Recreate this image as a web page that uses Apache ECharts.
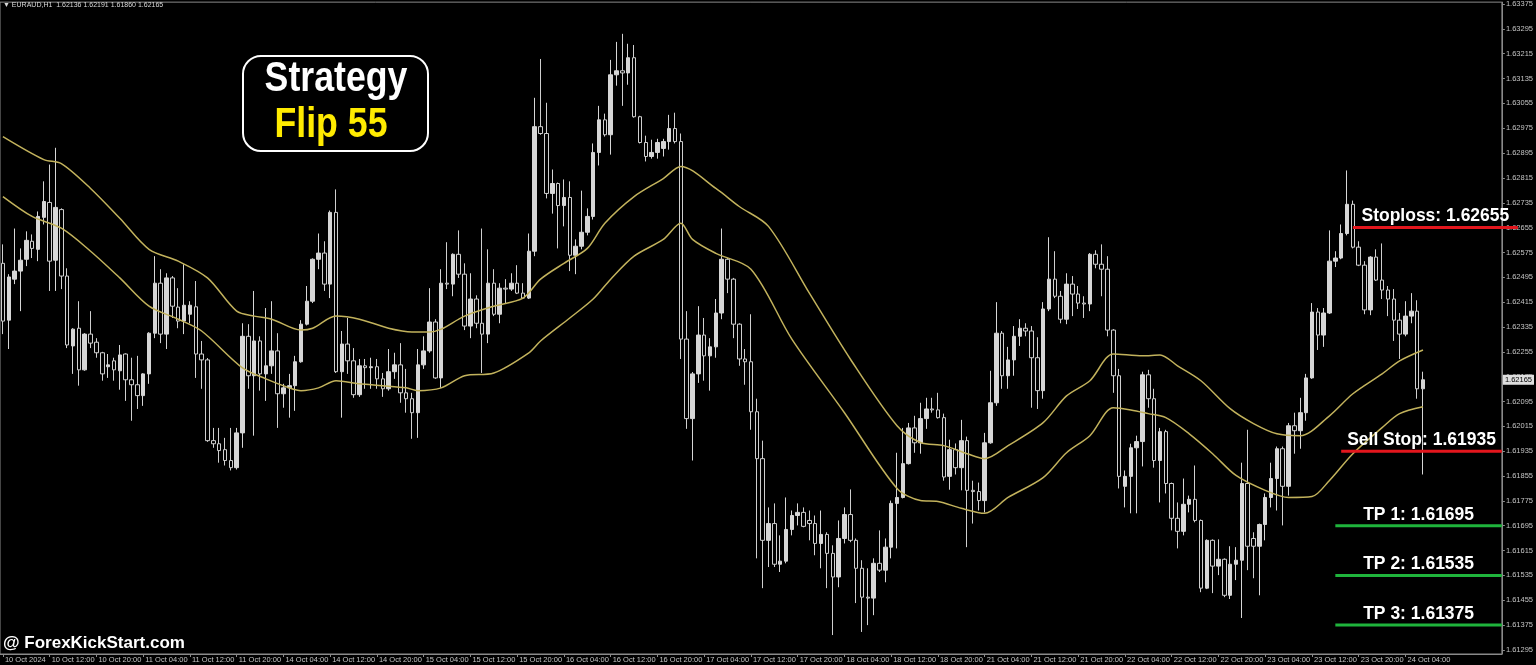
<!DOCTYPE html>
<html>
<head>
<meta charset="utf-8">
<title>EURAUD H1 - Strategy Flip 55</title>
<script src="https://cdn.jsdelivr.net/npm/echarts@6/dist/echarts.min.js"></script>
<style>
  html, body { margin: 0; padding: 0; background: #000; }
  #chart { width: 1536px; height: 665px; }
</style>
</head>
<body>
<div id="chart"></div>
<script>
// hourly bars, 10 Oct 04:00 -> 24 Oct 07:00, [open, close, low, high]
const ohlc = [
  [1.62540,1.62354,1.62312,1.62601],[1.62357,1.62496,1.62264,1.62505],[1.62489,1.62515,1.62473,1.62652],[1.62515,1.62550,1.62386,1.62588],
  [1.62553,1.62614,1.62531,1.62643],[1.62611,1.62588,1.62557,1.62633],[1.62585,1.62691,1.62547,1.62707],[1.62688,1.62739,1.62665,1.62804],
  [1.62736,1.62547,1.62451,1.62858],[1.62550,1.62720,1.62451,1.62912],[1.62713,1.62499,1.62457,1.62717],[1.62499,1.62277,1.62267,1.62524],
  [1.62274,1.62328,1.62184,1.62331],[1.62331,1.62197,1.62146,1.62418],[1.62197,1.62312,1.62194,1.62315],[1.62312,1.62283,1.62267,1.62386],
  [1.62286,1.62252,1.62236,1.62299],[1.62252,1.62184,1.62162,1.62255],[1.62207,1.62213,1.62171,1.62248],[1.62226,1.62197,1.62162,1.62236],
  [1.62194,1.62245,1.62133,1.62277],[1.62248,1.62165,1.62097,1.62250],[1.62165,1.62149,1.62033,1.62236],[1.62149,1.62114,1.62071,1.62242],
  [1.62114,1.62184,1.62081,1.62186],[1.62184,1.62315,1.62152,1.62318],[1.62315,1.62476,1.62299,1.62563],[1.62476,1.62312,1.62283,1.62521],
  [1.62312,1.62493,1.62264,1.62508],[1.62493,1.62402,1.62364,1.62499],[1.62399,1.62354,1.62331,1.62460],[1.62354,1.62405,1.62312,1.62537],
  [1.62376,1.62405,1.62347,1.62418],[1.62400,1.62248,1.62171,1.62483],[1.62248,1.62229,1.62136,1.62290],[1.62229,1.61969,1.61965,1.62235],
  [1.61969,1.61959,1.61946,1.62010],[1.61959,1.61937,1.61898,1.62010],[1.61940,1.61905,1.61889,1.61978],[1.61905,1.61882,1.61873,1.62010],
  [1.61882,1.61994,1.61876,1.62010],[1.61994,1.62305,1.61946,1.62347],[1.62305,1.62178,1.62136,1.62344],[1.62178,1.62290,1.61985,1.62451],
  [1.62290,1.62184,1.62130,1.62305],[1.62184,1.62210,1.62097,1.62396],[1.62210,1.62258,1.62184,1.62418],[1.62258,1.62120,1.62010,1.62315],
  [1.62120,1.62139,1.62075,1.62152],[1.62139,1.62146,1.62043,1.62184],[1.62146,1.62223,1.62065,1.62242],[1.62223,1.62344,1.62220,1.62357],
  [1.62344,1.62418,1.62340,1.62467],[1.62418,1.62553,1.62412,1.62556],[1.62553,1.62573,1.62521,1.62636],[1.62573,1.62473,1.62451,1.62611],
  [1.62473,1.62704,1.62428,1.62710],[1.62704,1.62191,1.62187,1.62778],[1.62191,1.62280,1.62043,1.62322],[1.62280,1.62226,1.62184,1.62364],
  [1.62226,1.62117,1.62107,1.62267],[1.62117,1.62210,1.62110,1.62232],[1.62210,1.62204,1.62136,1.62232],[1.62204,1.62207,1.62136,1.62236],
  [1.62207,1.62168,1.62136,1.62232],[1.62168,1.62136,1.62110,1.62187],[1.62136,1.62191,1.62130,1.62264],[1.62191,1.62213,1.62168,1.62252],
  [1.62213,1.62123,1.62091,1.62283],[1.62123,1.62104,1.62059,1.62200],[1.62104,1.62059,1.61975,1.62123],[1.62059,1.62213,1.61978,1.62264],
  [1.62213,1.62258,1.62200,1.62305],[1.62258,1.62351,1.62252,1.62460],[1.62351,1.62171,1.62168,1.62360],[1.62171,1.62476,1.62139,1.62521],
  [1.62476,1.62473,1.62457,1.62608],[1.62473,1.62569,1.62434,1.62572],[1.62569,1.62505,1.62493,1.62646],[1.62505,1.62338,1.62325,1.62540],
  [1.62338,1.62425,1.62299,1.62508],[1.62425,1.62347,1.62331,1.62437],[1.62347,1.62312,1.62187,1.62652],[1.62312,1.62476,1.62283,1.62585],
  [1.62476,1.62376,1.62370,1.62521],[1.62376,1.62460,1.62347,1.62476],[1.62460,1.62457,1.62412,1.62489],[1.62457,1.62476,1.62451,1.62508],
  [1.62476,1.62444,1.62441,1.62534],[1.62444,1.62428,1.62425,1.62476],[1.62428,1.62579,1.62425,1.62636],[1.62579,1.62980,1.62563,1.63073],
  [1.62980,1.62958,1.62954,1.63198],[1.62958,1.62765,1.62749,1.63057],[1.62765,1.62797,1.62700,1.62842],[1.62797,1.62726,1.62588,1.62800],
  [1.62726,1.62752,1.62659,1.62810],[1.62752,1.62566,1.62515,1.62804],[1.62566,1.62595,1.62505,1.62617],[1.62595,1.62640,1.62585,1.62774],
  [1.62640,1.62691,1.62630,1.62717],[1.62691,1.62897,1.62681,1.62926],[1.62897,1.63002,1.62855,1.63047],[1.63002,1.62954,1.62948,1.63022],
  [1.62954,1.63147,1.62890,1.63195],[1.63147,1.63160,1.63112,1.63253],[1.63160,1.63153,1.63047,1.63279],[1.63153,1.63202,1.63115,1.63247],
  [1.63202,1.63012,1.63009,1.63243],[1.63012,1.62929,1.62926,1.63015],[1.62929,1.62884,1.62868,1.62951],[1.62884,1.62897,1.62877,1.62938],
  [1.62897,1.62929,1.62877,1.62941],[1.62910,1.62932,1.62884,1.62941],[1.62932,1.62974,1.62906,1.63018],[1.62974,1.62932,1.62926,1.63025],
  [1.62932,1.62296,1.62232,1.62958],[1.62296,1.62040,1.62007,1.62386],[1.62040,1.62184,1.61905,1.62190],[1.62184,1.62309,1.62155,1.62402],
  [1.62309,1.62242,1.62162,1.62364],[1.62242,1.62271,1.62130,1.62299],[1.62271,1.62380,1.62236,1.62425],[1.62380,1.62553,1.62360,1.62652],
  [1.62553,1.62489,1.62444,1.62557],[1.62489,1.62344,1.62299,1.62493],[1.62344,1.62232,1.62210,1.62347],[1.62232,1.62223,1.62149,1.62264],
  [1.62223,1.62062,1.62004,1.62376],[1.62062,1.61911,1.61590,1.62104],[1.61911,1.61648,1.61494,1.61969],[1.61648,1.61702,1.61562,1.61754],
  [1.61702,1.61571,1.61562,1.61767],[1.61571,1.61581,1.61546,1.61664],[1.61581,1.61683,1.61574,1.61786],[1.61683,1.61728,1.61664,1.61744],
  [1.61728,1.61738,1.61696,1.61767],[1.61738,1.61693,1.61690,1.61754],[1.61712,1.61702,1.61648,1.61744],[1.61702,1.61638,1.61600,1.61728],
  [1.61638,1.61667,1.61558,1.61744],[1.61667,1.61606,1.61494,1.61674],[1.61606,1.61530,1.61343,1.61632],[1.61530,1.61654,1.61497,1.61712],
  [1.61654,1.61731,1.61638,1.61754],[1.61731,1.61648,1.61642,1.61812],[1.61648,1.61558,1.61446,1.61654],[1.61558,1.61465,1.61353,1.61584],
  [1.61465,1.61462,1.61375,1.61558],[1.61462,1.61574,1.61407,1.61590],[1.61574,1.61552,1.61546,1.61680],[1.61552,1.61626,1.61513,1.61654],
  [1.61626,1.61767,1.61590,1.61776],[1.61767,1.61786,1.61622,1.61930],[1.61786,1.61895,1.61783,1.62010],[1.61895,1.62010,1.61892,1.62026],
  [1.62010,1.61962,1.61930,1.62049],[1.61962,1.62040,1.61927,1.62091],[1.62040,1.62071,1.62007,1.62107],[1.62071,1.62068,1.62059,1.62107],
  [1.62068,1.62043,1.62040,1.62123],[1.62043,1.61852,1.61840,1.62056],[1.61854,1.61940,1.61811,1.61972],[1.61940,1.61882,1.61860,1.61960],
  [1.61882,1.61969,1.61809,1.62036],[1.61969,1.61809,1.61626,1.61982],[1.61809,1.61805,1.61702,1.61840],[1.61805,1.61776,1.61744,1.61834],
  [1.61776,1.61962,1.61738,1.61994],[1.61962,1.62091,1.61959,1.62194],[1.62091,1.62315,1.62081,1.62415],[1.62315,1.62178,1.62136,1.62322],
  [1.62178,1.62229,1.62136,1.62271],[1.62229,1.62305,1.62178,1.62338],[1.62305,1.62331,1.62274,1.62360],[1.62331,1.62322,1.62305,1.62347],
  [1.62322,1.62236,1.62075,1.62338],[1.62236,1.62130,1.62071,1.62302],[1.62130,1.62393,1.62104,1.62415],[1.62393,1.62489,1.62386,1.62624],
  [1.62489,1.62434,1.62428,1.62579],[1.62434,1.62360,1.62347,1.62451],[1.62360,1.62473,1.62344,1.62508],[1.62473,1.62441,1.62370,1.62499],
  [1.62441,1.62412,1.62393,1.62467],[1.62412,1.62409,1.62364,1.62434],[1.62409,1.62569,1.62386,1.62573],[1.62569,1.62537,1.62524,1.62582],
  [1.62537,1.62521,1.62434,1.62601],[1.62521,1.62325,1.62305,1.62563],[1.62325,1.62178,1.62123,1.62328],[1.62178,1.61854,1.61815,1.62200],
  [1.61822,1.61854,1.61754,1.61873],[1.61854,1.61946,1.61735,1.61959],[1.61946,1.61966,1.61735,1.61985],[1.61966,1.62181,1.61886,1.62191],
  [1.62181,1.62104,1.62075,1.62197],[1.62104,1.61905,1.61882,1.62136],[1.61905,1.61998,1.61770,1.62010],[1.61998,1.61831,1.61799,1.62004],
  [1.61831,1.61719,1.61680,1.61834],[1.61719,1.61677,1.61622,1.61770],[1.61677,1.61764,1.61664,1.61847],[1.61764,1.61780,1.61738,1.61792],
  [1.61780,1.61712,1.61706,1.61889],[1.61712,1.61494,1.61481,1.61715],[1.61494,1.61648,1.61491,1.61651],[1.61648,1.61565,1.61478,1.61651],
  [1.61565,1.61587,1.61536,1.61651],[1.61587,1.61471,1.61465,1.61590],[1.61471,1.61571,1.61459,1.61629],[1.61571,1.61584,1.61520,1.61626],
  [1.61584,1.61831,1.61398,1.61898],[1.61831,1.61629,1.61552,1.62004],[1.61654,1.61629,1.61526,1.61674],[1.61629,1.61699,1.61471,1.61702],
  [1.61699,1.61786,1.61648,1.61799],[1.61786,1.61847,1.61754,1.61898],[1.61847,1.61943,1.61744,1.61950],[1.61943,1.61822,1.61696,1.61950],
  [1.61822,1.62017,1.61792,1.62026],[1.62017,1.62001,1.61927,1.62059],[1.62001,1.62059,1.61943,1.62107],[1.62059,1.62171,1.62033,1.62184],
  [1.62171,1.62383,1.62168,1.62412],[1.62383,1.62309,1.62261,1.62396],[1.62309,1.62380,1.62271,1.62396],[1.62380,1.62547,1.62377,1.62646],
  [1.62547,1.62557,1.62528,1.62579],[1.62557,1.62636,1.62553,1.62665],[1.62636,1.62730,1.62630,1.62839],[1.62730,1.62592,1.62588,1.62742],
  [1.62592,1.62534,1.62531,1.62611],[1.62534,1.62390,1.62376,1.62547],[1.62390,1.62560,1.62373,1.62563],[1.62560,1.62486,1.62483,1.62585],
  [1.62486,1.62454,1.62425,1.62604],[1.62454,1.62425,1.62370,1.62467],[1.62425,1.62357,1.62290,1.62457],[1.62357,1.62312,1.62232,1.62380],
  [1.62312,1.62370,1.62305,1.62418],[1.62370,1.62386,1.62347,1.62444],[1.62386,1.62136,1.62104,1.62421],[1.62136,1.62165,1.61860,1.62191]
];

// the two moving average lines, read at these bar indexes
const upperIdx = [0,7,10,15,20,25,30,35,40,43,46,51,53,57,61,66,70,73,75,79,84,89,92,96,100,103,108,113,116,122,126,131,138,145,153,157,161,165,168,172,178,182,186,190,195,198,201,205,210,214,218,222,227,231,236,239,243];
const upperVals = [1.62948,1.62874,1.62861,1.62781,1.62685,1.62585,1.62547,1.62493,1.62386,1.62370,1.62360,1.62325,1.62331,1.62370,1.62360,1.62331,1.62319,1.62319,1.62328,1.62370,1.62402,1.62428,1.62489,1.62540,1.62588,1.62669,1.62755,1.62813,1.62852,1.62781,1.62723,1.62659,1.62444,1.62232,1.62017,1.61963,1.61953,1.61927,1.61911,1.61953,1.62027,1.62113,1.62162,1.62248,1.62242,1.62245,1.62210,1.62162,1.62072,1.62024,1.61991,1.61985,1.62049,1.62120,1.62184,1.62226,1.62261];
const lowerIdx = [0,5,10,15,20,25,30,34,41,45,49,51,54,57,61,65,69,71,75,79,84,90,92,97,101,104,108,113,116,118,122,128,135,144,153,157,160,164,168,172,178,182,186,190,193,196,199,203,207,211,216,220,224,227,231,236,239,243];
const lowerVals = [1.62755,1.62691,1.62653,1.62579,1.62493,1.62402,1.62360,1.62322,1.62203,1.62168,1.62139,1.62130,1.62139,1.62162,1.62152,1.62146,1.62139,1.62130,1.62139,1.62178,1.62187,1.62252,1.62290,1.62364,1.62425,1.62489,1.62563,1.62617,1.62669,1.62617,1.62572,1.62521,1.62296,1.62059,1.61815,1.61776,1.61773,1.61751,1.61735,1.61786,1.61850,1.61930,1.61985,1.62075,1.62068,1.62056,1.62043,1.61991,1.61927,1.61857,1.61809,1.61786,1.61789,1.61841,1.61927,1.62011,1.62056,1.62078];

// time labels, one every 8 bars
const xLabels = ['10 Oct 2024','10 Oct 12:00','10 Oct 20:00','11 Oct 04:00','11 Oct 12:00','11 Oct 20:00',
  '14 Oct 04:00','14 Oct 12:00','14 Oct 20:00','15 Oct 04:00','15 Oct 12:00','15 Oct 20:00',
  '16 Oct 04:00','16 Oct 12:00','16 Oct 20:00','17 Oct 04:00','17 Oct 12:00','17 Oct 20:00',
  '18 Oct 04:00','18 Oct 12:00','18 Oct 20:00','21 Oct 04:00','21 Oct 12:00','21 Oct 20:00',
  '22 Oct 04:00','22 Oct 12:00','22 Oct 20:00','23 Oct 04:00','23 Oct 12:00','23 Oct 20:00','24 Oct 04:00'];
const yTicks = [1.63375,1.63295,1.63215,1.63135,1.63055,1.62975,1.62895,1.62815,1.62735,1.62655,1.62575,1.62495,1.62415,
  1.62335,1.62255,1.62175,1.62095,1.62015,1.61935,1.61855,1.61775,1.61695,1.61615,1.61535,1.61455,1.61375,1.61295];

// trade levels drawn on the right
const levelNames = ['Stoploss', 'Sell Stop', 'TP 1', 'TP 2', 'TP 3'];
const levelPrices = [1.62655, 1.61935, 1.61695, 1.61535, 1.61375];
const levelStart = [231, 229, 228, 228, 228];

const header = 'EURAUD,H1  1.62136 1.62191 1.61860 1.62165';

const slots = 257; // bars + empty shift space on the right
const cats = [];
for (let i = 0; i < slots; i++) cats.push(String(i));

const showTime = function (idx) { return idx % 8 === 0 && idx / 8 < xLabels.length; };
const axisGray = '#8a8a8a';
const labelGray = '#c4c4c4';
const smallFont = '"Liberation Sans", Arial, sans-serif';
const bigFont = 'bold 42px "Liberation Sans", Arial, sans-serif';

const chart = echarts.init(document.getElementById('chart'), null, { renderer: 'canvas' });

chart.setOption({
  backgroundColor: '#000',
  animation: false,
  grid: {
    left: 0, right: 29, top: 0, bottom: 11,
    show: true, borderColor: axisGray, borderWidth: 1, backgroundColor: '#000'
  },
  xAxis: {
    type: 'category',
    data: cats,
    boundaryGap: true,
    axisLine: { lineStyle: { color: axisGray } },
    axisTick: { show: true, alignWithLabel: true, interval: showTime, length: 3, lineStyle: { color: axisGray } },
    axisLabel: {
      interval: showTime,
      align: 'left',
      margin: 2,
      padding: [0, 0, 0, 2],
      color: labelGray,
      fontSize: 7.5,
      fontFamily: smallFont,
      formatter: function (value, index) { return xLabels[index / 8] || ''; }
    },
    splitLine: { show: false }
  },
  yAxis: {
    type: 'value',
    position: 'right',
    min: 1.61282,
    max: 1.63381,
    scale: true,
    axisLine: { show: true, lineStyle: { color: axisGray } },
    axisTick: { show: true, length: 3, customValues: yTicks, lineStyle: { color: axisGray } },
    axisLabel: {
      customValues: yTicks,
      margin: 4,
      color: labelGray,
      fontSize: 7.5,
      fontFamily: smallFont,
      formatter: function (v) { return v.toFixed(5); }
    },
    splitLine: { show: false }
  },
  series: [
    {
      type: 'candlestick',
      data: ohlc,
      barWidth: 4,
      itemStyle: {
        color: '#d6d6d6',
        color0: '#000',
        borderColor: '#d6d6d6',
        borderColor0: '#cfcfcf',
        borderWidth: 1
      },
      markLine: {
        silent: true,
        precision: 5,
        symbol: ['none', 'none'],
        lineStyle: { color: 'rgba(0,0,0,0)', width: 0 },
        label: {
          show: true,
          position: 'end',
          distance: 1,
          formatter: function (p) { return Number(p.value).toFixed(5); },
          backgroundColor: '#dedede',
          color: '#000',
          fontSize: 7.5,
          fontFamily: smallFont,
          padding: [1, 2]
        },
        data: [{ yAxis: ohlc[ohlc.length - 1][1] }]
      },
      z: 3
    },
    {
      type: 'line',
      data: upperIdx.map(function (i, k) { return [i, upperVals[k]]; }),
      showSymbol: false,
      smooth: 0.3,
      lineStyle: { color: '#c2b25c', width: 1.5 },
      z: 4
    },
    {
      type: 'line',
      data: lowerIdx.map(function (i, k) { return [i, lowerVals[k]]; }),
      showSymbol: false,
      smooth: 0.3,
      lineStyle: { color: '#c2b25c', width: 1.5 },
      z: 4
    },
    {
      type: 'custom',
      clip: false,
      z: 10,
      data: levelPrices.map(function (p, k) { return [levelStart[k], p, k]; }),
      renderItem: function (params, api) {
        const k = api.value(2);
        const pt = api.coord([api.value(0), api.value(1)]);
        const cs = params.coordSys;
        const xEnd = cs.x + cs.width + (k === 0 ? 16 : 0);
        const isTp = levelNames[k].indexOf('TP') === 0;
        return {
          type: 'group',
          children: [
            {
              type: 'line',
              shape: { x1: pt[0], y1: pt[1], x2: xEnd, y2: pt[1] },
              style: { stroke: isTp ? '#1fb43c' : '#e3161d', lineWidth: 3 }
            },
            {
              type: 'text',
              x: (pt[0] + xEnd) / 2,
              y: pt[1] - 11,
              style: {
                text: levelNames[k] + ': ' + api.value(1).toFixed(5),
                fill: '#fff',
                font: 'bold 17.5px "Liberation Sans", Arial, sans-serif',
                align: 'center',
                verticalAlign: 'middle'
              }
            }
          ]
        };
      }
    }
  ],
  graphic: [
    {
      type: 'text', left: 3, top: 2, z: 20,
      style: { text: '\u25BC ' + header, fill: '#d8d8d8', font: '7px "Liberation Sans", Arial, sans-serif' }
    },
    {
      type: 'rect', z: 20,
      shape: { x: 243, y: 56, width: 185, height: 95, r: 18 },
      style: { fill: '#000', stroke: '#fff', lineWidth: 2 }
    },
    {
      // narrow bold look: regular bold squeezed horizontally
      type: 'text', z: 21, x: 336, y: 79, scaleX: 0.85,
      style: { text: 'Strategy', fill: '#fff', align: 'center', verticalAlign: 'middle', font: bigFont }
    },
    {
      type: 'text', z: 21, x: 331, y: 125, scaleX: 0.85,
      style: { text: 'Flip 55', fill: '#ffeb00', align: 'center', verticalAlign: 'middle', font: bigFont }
    },
    {
      type: 'text', z: 21, x: 3, y: 643,
      style: {
        text: '@ ForexKickStart.com', fill: '#fff', verticalAlign: 'middle',
        font: 'bold 17px "Liberation Sans", Arial, sans-serif'
      }
    }
  ]
});
</script>
</body>
</html>
